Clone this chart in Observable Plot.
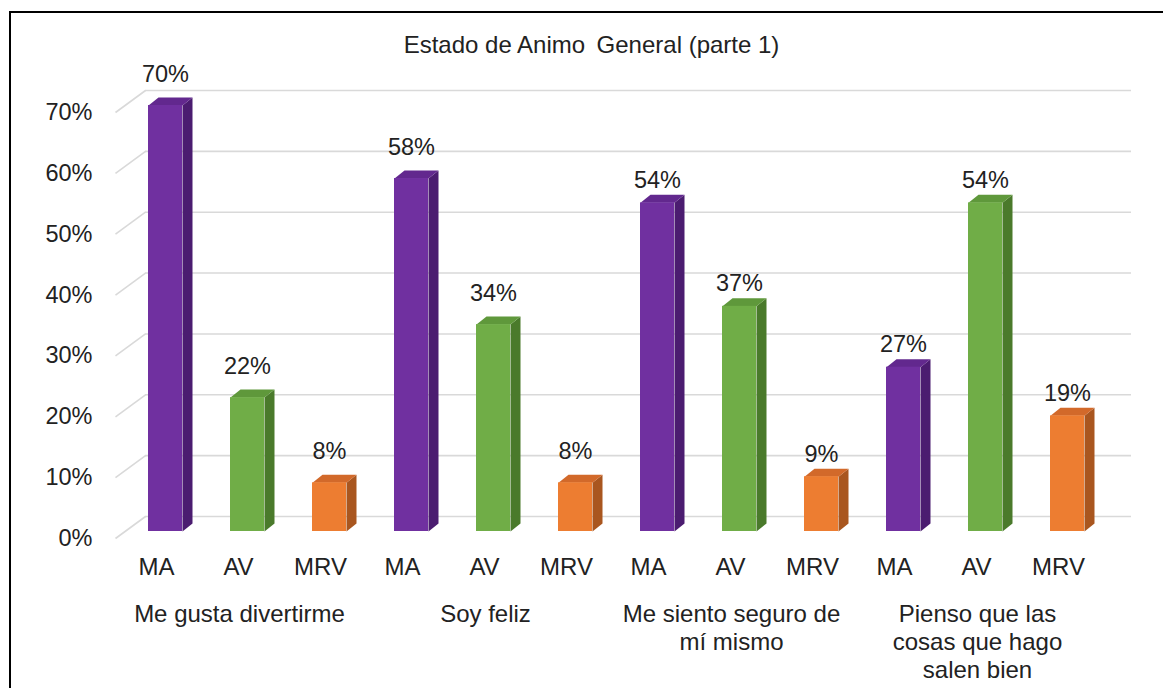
<!DOCTYPE html>
<html>
<head>
<meta charset="utf-8">
<script src="https://cdn.jsdelivr.net/npm/d3@7"></script>
<script src="https://cdn.jsdelivr.net/npm/@observablehq/plot@0.6"></script>
<style>
  html, body { margin: 0; padding: 0; background: #fff; overflow: hidden; }
  #wrap { position: relative; width: 1163px; height: 688px; }
  #border { position: absolute; left: 9px; top: 11px; width: 1300px; height: 1000px; border: 2px solid #000; pointer-events: none; }
  svg { display: block; }
</style>
</head>
<body>
<div id="wrap"><div id="border"></div></div>
<script>
// ---- data ----
const title = "Estado de Animo\u2009 General (parte 1)";
const groups = ["Me gusta divertirme", "Soy feliz", "Me siento seguro de\nmí mismo", "Pienso que las\ncosas que hago\nsalen bien"];
const series = ["MA", "AV", "MRV"];
const valuesMA = [70, 58, 54, 27];
const valuesAV = [22, 34, 37, 54];
const valuesMRV = [8, 8, 9, 19];
const yTicks = [0, 10, 20, 30, 40, 50, 60, 70];

// ---- styling ----
const front = {MA: "#7030A0", AV: "#70AD47", MRV: "#ED7D31"};
const side  = {MA: "#4B1C70", AV: "#4A7A2B", MRV: "#A9561F"};
const top_  = {MA: "#62288E", AV: "#5F983B", MRV: "#D2692A"};

const seriesValues = {MA: valuesMA, AV: valuesAV, MRV: valuesMRV};
const bars = [];
groups.forEach((g, gi) => series.forEach((s, si) => {
  bars.push({i: gi * 3 + si, g: gi, s, value: seriesValues[s][gi]});
}));

// pixel -> data unit helpers (3D geometry)
const ux = 11 / 902;   // x units per pixel
const uy = 70 / 426;   // y units per pixel
const hw = 17 * ux, dX = 10 * ux, dY = 8 * uy;

const sidePts = [], topPts = [];
bars.forEach(d => {
  const id = d.i;
  [[d.i + hw, 0], [d.i + hw + dX, dY], [d.i + hw + dX, d.value + dY], [d.i + hw, d.value]]
    .forEach(([x, y]) => sidePts.push({id, x, y, fill: side[d.s]}));
  [[d.i - hw, d.value], [d.i + hw, d.value], [d.i + hw + dX, d.value + dY], [d.i - hw + dX, d.value + dY]]
    .forEach(([x, y]) => topPts.push({id, x, y, fill: top_[d.s]}));
});

const txt = "#222222";
const font = "Arial, 'Liberation Sans', sans-serif";

const chart = Plot.plot({
  width: 1163,
  height: 688,
  marginLeft: 92,
  marginRight: 73,
  marginTop: 44,
  marginBottom: 40,
  style: {fontFamily: font, fontSize: "23px", color: txt, background: "transparent", overflow: "visible"},
  x: {type: "linear", domain: [0, 11], range: [165, 1067], axis: null},
  y: {type: "linear", domain: [0, 70], range: [531, 105], label: null},
  marks: [
    // back-wall gridlines and left floor/wall diagonals
    Plot.ruleY(yTicks, {y: d => d + 15 * uy, x1: -20 * ux, x2: 966 * ux, stroke: "#d9d9d9", strokeWidth: 1.6}),
    Plot.link(yTicks, {x1: -50 * ux, y1: d => d - 7 * uy, x2: -20 * ux, y2: d => d + 15 * uy, stroke: "#d9d9d9", strokeWidth: 1.6}),
    // y axis labels
    Plot.axisY(yTicks, {anchor: "left", tickSize: 0, tickPadding: 0, dy: 7, label: null,
      tickFormat: d => d + "%", fontSize: 23.5, fill: txt}),
    // 3D bars: side, top, front
    Plot.line(sidePts, {x: "x", y: "y", z: "id", fill: "fill", stroke: "none", curve: "linear-closed"}),
    Plot.line(topPts, {x: "x", y: "y", z: "id", fill: "fill", stroke: "none", curve: "linear-closed"}),
    Plot.rect(bars, {x1: d => d.i - hw, x2: d => d.i + hw, y1: 0, y2: "value", fill: d => front[d.s]}),
    // data labels
    Plot.text(bars.filter(d => d.g < 2), {x: "i", y: "value", text: d => d.value + "%", lineAnchor: "bottom",
      dy: -24, fontSize: 23.5, fill: txt}),
    Plot.text(bars.filter(d => d.g >= 2), {x: "i", y: "value", text: d => d.value + "%", lineAnchor: "bottom",
      dy: -15, fontSize: 23.5, fill: txt}),
    // series labels
    Plot.text(bars, {x: "i", y: 0, text: "s", lineAnchor: "bottom", dy: 43, dx: -9, fontSize: 24, fill: txt}),
    // group labels
    Plot.text(groups, {x: (d, gi) => gi * 3 + 1, y: 0, text: d => d, lineAnchor: "top", dy: 71, dx: -8,
      fontSize: 24, lineHeight: 28 / 24, fill: txt}),
    // title
    Plot.text([title], {frameAnchor: "top", text: d => d, lineAnchor: "middle", dy: 1, fontSize: 24, fill: txt})
  ]
});

document.getElementById("wrap").prepend(chart);
</script>
</body>
</html>
